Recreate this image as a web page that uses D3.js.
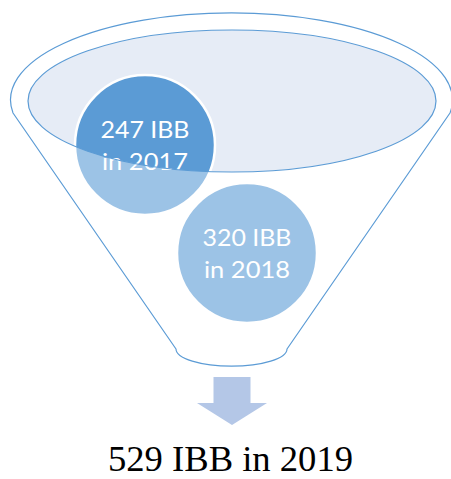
<!DOCTYPE html>
<html>
<head>
<meta charset="utf-8">
<script src="https://cdn.jsdelivr.net/npm/d3@7"></script>
<style>
  html, body { margin: 0; padding: 0; background: #ffffff; }
  svg { display: block; }
</style>
</head>
<body>
<svg id="chart" width="451" height="479"></svg>
<script>
// ---- data ----
const values = [247, 320];
const years = [2017, 2018];
const unit = "IBB";
const resultValue = 529;
const resultYear = 2019;

// ---- layout ----
const svg = d3.select("#chart");
const blue = "#5b9bd5";

// circle placement via scales (index -> position)
const xPos = d3.scaleLinear().domain([0, 1]).range([145, 247]);
const yPos = d3.scaleLinear().domain([0, 1]).range([145, 253]);
const R = 70;

// inner ellipse (opening)
const inner = { cx: 232, cy: 101, rx: 204, ry: 71 };

const outerD = "M13,113 A221,87 0 1 1 450,113 L287,349 A55,17 0 0 1 176,349 Z";
const ellipseD = `M${inner.cx - inner.rx},${inner.cy} A${inner.rx},${inner.ry} 0 1 0 ${inner.cx + inner.rx},${inner.cy} A${inner.rx},${inner.ry} 0 1 0 ${inner.cx - inner.rx},${inner.cy} Z`;

// 1. opening fill
svg.append("ellipse")
  .attr("cx", inner.cx).attr("cy", inner.cy)
  .attr("rx", inner.rx).attr("ry", inner.ry)
  .attr("fill", "#e6ecf6");

// 2. circles
const g = svg.append("g");
g.selectAll("circle.item")
  .data(values)
  .join("circle")
  .attr("class", "item")
  .attr("cx", (d, i) => xPos(i))
  .attr("cy", (d, i) => yPos(i))
  .attr("r", R)
  .attr("fill", blue)
  .attr("stroke", "#ffffff")
  .attr("stroke-width", 2.5);

// 3. labels
const labels = g.selectAll("g.lab")
  .data(values)
  .join("g")
  .attr("class", "lab")
  .attr("transform", (d, i) => `translate(${xPos(i)},${yPos(i)})`);
labels.append("text")
  .attr("y", -7)
  .attr("text-anchor", "middle")
  .attr("font-family", "Lato, 'Open Sans', sans-serif")
  .attr("font-size", 24)
  .attr("fill", "#ffffff")
  .attr("textLength", 89)
  .attr("lengthAdjust", "spacingAndGlyphs")
  .text(d => `${d} ${unit}`);
labels.append("text")
  .attr("y", 25)
  .attr("text-anchor", "middle")
  .attr("font-family", "Lato, 'Open Sans', sans-serif")
  .attr("font-size", 24)
  .attr("fill", "#ffffff")
  .attr("textLength", 86)
  .attr("lengthAdjust", "spacingAndGlyphs")
  .text((d, i) => `in ${years[i]}`);

// 4. translucent funnel body with opening as hole
svg.append("path")
  .attr("d", outerD + " " + ellipseD)
  .attr("fill", "#ffffff")
  .attr("fill-opacity", 0.4)
  .attr("fill-rule", "evenodd");

// 5. outlines
svg.append("path")
  .attr("d", outerD)
  .attr("fill", "none")
  .attr("stroke", blue)
  .attr("stroke-width", 1.2)
  .attr("stroke-linejoin", "round");
svg.append("ellipse")
  .attr("cx", inner.cx).attr("cy", inner.cy)
  .attr("rx", inner.rx).attr("ry", inner.ry)
  .attr("fill", "none")
  .attr("stroke", blue)
  .attr("stroke-width", 1.2);

// 6. arrow
const ax = 232;
const arrow = d3.path();
arrow.moveTo(ax - 18.5, 377);
arrow.lineTo(ax + 18.5, 377);
arrow.lineTo(ax + 18.5, 403);
arrow.lineTo(ax + 35, 403);
arrow.lineTo(ax, 425);
arrow.lineTo(ax - 35, 403);
arrow.lineTo(ax - 18.5, 403);
arrow.closePath();
svg.append("path").attr("d", arrow.toString()).attr("fill", "#b4c7e7");

// 7. result text
svg.append("text")
  .attr("x", 230.5)
  .attr("y", 471)
  .attr("text-anchor", "middle")
  .attr("font-family", "'Liberation Serif', 'Times New Roman', serif")
  .attr("font-size", 35)
  .attr("fill", "#000000")
  .attr("textLength", 245)
  .attr("lengthAdjust", "spacingAndGlyphs")
  .text(`${resultValue} ${unit} in ${resultYear}`);
</script>
</body>
</html>
